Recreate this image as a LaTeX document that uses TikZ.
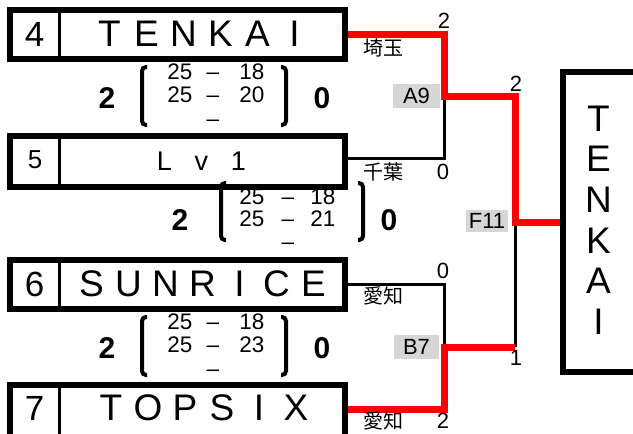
\documentclass[tikz,border=0pt]{standalone}
\usepackage{fontspec}
\setmainfont{Liberation Sans}
\newfontfamily\jpfont{Noto Sans CJK JP}
\usetikzlibrary{backgrounds}
\definecolor{lblgray}{RGB}{214,214,214}
\def\lspread#1{\ifx#1\relax\else\makebox[37pt][c]{#1}\expandafter\lspread\fi}
\begin{document}
\begin{tikzpicture}[x=1pt,y=-1pt,
  teambox/.style={draw,line width=6pt,minimum width=335pt,inner sep=0pt},
  champbox/.style={draw,line width=6pt,minimum width=97pt,minimum height=300pt,inner sep=0pt},
  divider/.style={line width=2.5pt},
  redline/.style={draw=red,line width=7pt},
  blkline/.style={draw=black,line width=3pt},
  namefont/.style={font=\fontsize{37}{40}\selectfont,inner sep=0pt},
  smallname/.style={font=\fontsize{27}{30}\selectfont,inner sep=0pt},
  numfont/.style={font=\fontsize{35}{38}\selectfont,inner sep=0pt},
  smallnum/.style={font=\fontsize{26}{28}\selectfont,inner sep=0pt},
  bigsc/.style={font=\bfseries\fontsize{30}{32}\selectfont,inner sep=0pt},
  sc/.style={font=\fontsize{22.5}{24}\selectfont,inner sep=0pt},
  endnum/.style={font=\fontsize{22}{24}\selectfont,inner sep=0pt},
  jplbl/.style={font=\jpfont\fontsize{20}{22}\selectfont,inner sep=0pt},
  gamelbl/.style={fill=lblgray,inner sep=0pt,font=\fontsize{22}{24}\selectfont},
  bracket/.style={line width=4pt,rounded corners=4pt}
]
\useasboundingbox (0,0) rectangle (633,434);
\coordinate (dv) at (59.5,0);

% team boxes
\node[teambox,minimum height=49pt] (t4) at (177.5,34.5) {};
\node[teambox,minimum height=51pt] (t5) at (177.5,161.5) {};
\node[teambox,minimum height=49pt] (t6) at (177.5,284.5) {};
\node[teambox,minimum height=52pt] (t7) at (177.5,411) {};
\foreach \t in {t4,t5,t6,t7}
  \draw[divider] (\t.north west -| dv) -- (\t.south west -| dv);

\node[numfont] (n4) at (34.5,34.5) {4};
\node[smallnum] (n5) at (35,160) {5};
\node[numfont] (n6) at (34.5,284) {6};
\node[numfont] (n7) at (34.5,408) {7};

\node[namefont] (nm4) at (202,34) {\lspread TENKAI\relax};
\node[smallname] (nm5) at (201.5,161) {\lspread Lv1\relax};
\node[namefont] (nm6) at (202.5,284) {\lspread SUNRICE\relax};
\node[namefont] (nm7) at (203.5,408) {\lspread TOPSIX\relax};

% champion box
\node[champbox] (champ) at (611.5,222) {};
\foreach \ch [count=\i from 0] in {T,E,N,K,A,I}
  \node[namefont] (c\i) at (598.5,118.5+40.6*\i) {\ch};

% junctions
\coordinate (a9j) at (444,96);
\coordinate (b7j) at (444,347);
\coordinate (f11j) at (515,222);

\begin{pgfonlayer}{background}
\draw[blkline] ([yshift=3.5pt]t5.east) -| (a9j);
\draw[blkline] (t6.east) -| (b7j);
\draw[blkline] (b7j -| f11j) -- (f11j);
\draw[redline] (t4.east) -| (a9j) -| (f11j) -- (champ.west);
\draw[redline] ([yshift=2pt]t7.east) -| (b7j) -- (b7j -| f11j);
\end{pgfonlayer}

% game labels
\node[gamelbl,minimum width=47pt,minimum height=24pt] (la9) at (416.5,96) {A9};
\node[gamelbl,minimum width=42pt,minimum height=22pt] (lf11) at (487,221) {F11};
\node[gamelbl,minimum width=45pt,minimum height=24pt] (lb7) at (416.5,347) {B7};

% prefecture labels
\node[jplbl] (p4) at (383,48) {埼玉};
\node[jplbl] (p5) at (383,172) {千葉};
\node[jplbl] (p6) at (383,296) {愛知};
\node[jplbl] (p7) at (383,421) {愛知};

% set counts at line ends
\node[endnum] (e4) at (444,21) {2};
\node[endnum] (e5) at (443,172) {0};
\node[endnum] (e6) at (443,271) {0};
\node[endnum] (e7) at (443,421) {2};
\node[endnum] (ea9) at (516,84) {2};
\node[endnum] (eb7) at (516,358) {1};

% match 1 scores
\node[bigsc] (m1a) at (107,98) {2};
\node[bigsc] (m1b) at (322,98) {0};
\node[sc] (m1r1a) at (180,72) {25};
\node[sc] (m1r1d) at (213,72) {\vphantom{0}–};
\node[sc] (m1r1b) at (252,72) {18};
\node[sc] (m1r2a) at (180,95) {25};
\node[sc] (m1r2d) at (213,95) {\vphantom{0}–};
\node[sc] (m1r2b) at (252,95) {20};
\node[sc] (m1r3d) at (213,119) {\vphantom{0}–};
\draw[bracket] (147,67) -- (142,67) -- (142,125) -- (147,125);
\draw[bracket] (281,67) -- (286,67) -- (286,125) -- (281,125);

% match 2 scores
\node[bigsc] (m2a) at (180,220) {2};
\node[bigsc] (m2b) at (389,220) {0};
\node[sc] (m2r1a) at (252,197) {25};
\node[sc] (m2r1d) at (288,197) {\vphantom{0}–};
\node[sc] (m2r1b) at (323,197) {18};
\node[sc] (m2r2a) at (252,219) {25};
\node[sc] (m2r2d) at (288,219) {\vphantom{0}–};
\node[sc] (m2r2b) at (323,219) {21};
\node[sc] (m2r3d) at (288,242) {\vphantom{0}–};
\draw[bracket] (226,183) -- (221,183) -- (221,240) -- (226,240);
\draw[bracket] (358,183) -- (363,183) -- (363,240) -- (358,240);

% match 3 scores
\node[bigsc] (m3a) at (107,348) {2};
\node[bigsc] (m3b) at (322,348) {0};
\node[sc] (m3r1a) at (180,322) {25};
\node[sc] (m3r1d) at (213,322) {\vphantom{0}–};
\node[sc] (m3r1b) at (252,322) {18};
\node[sc] (m3r2a) at (180,345) {25};
\node[sc] (m3r2d) at (213,345) {\vphantom{0}–};
\node[sc] (m3r2b) at (252,345) {23};
\node[sc] (m3r3d) at (213,369) {\vphantom{0}–};
\draw[bracket] (147,317) -- (142,317) -- (142,375) -- (147,375);
\draw[bracket] (281,317) -- (286,317) -- (286,375) -- (281,375);
\end{tikzpicture}
\end{document}
